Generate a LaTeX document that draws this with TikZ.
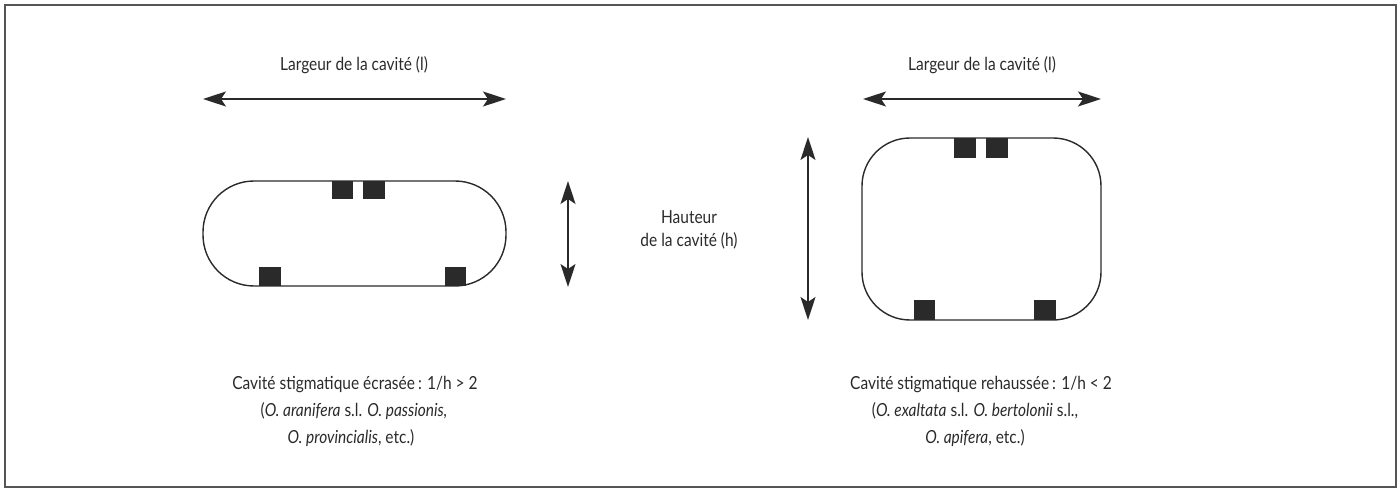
\documentclass[tikz,border=0pt]{standalone}
\usepackage{fontspec}
\setmainfont[FakeStretch=0.86]{Lato}
\usetikzlibrary{arrows.meta}
\definecolor{ink}{HTML}{2A2A2A}
\tikzset{
  dimarrow/.style={draw=ink, line width=1.4pt, {Stealth[length=23pt,width=15pt,inset=5pt]}-{Stealth[length=23pt,width=15pt,inset=5pt]}},
  cavity/.style={draw=ink, line width=1.4pt},
  pad/.style={fill=ink, draw=none},
  lbl/.style={text=ink, font=\fontsize{18}{22}\selectfont, inner sep=0pt, anchor=base}
}
\begin{document}
\begin{tikzpicture}[x=1pt,y=-1pt]
\useasboundingbox (0,0) rectangle (1400,489);
\draw[draw=ink!80, line width=1.5pt] (5,5) rectangle (1396,487);

% left cavity
\draw[cavity, rounded corners=51pt] (203,181) rectangle (506,286);
\fill[pad] (332,181) rectangle (353,199);
\fill[pad] (363,181) rectangle (385,199);
\fill[pad] (259,267) rectangle (281,286);
\fill[pad] (445,267) rectangle (466,286);

% right cavity
\draw[cavity, rounded corners=48pt] (862,138) rectangle (1101,320);
\fill[pad] (954,138) rectangle (976,158);
\fill[pad] (986,138) rectangle (1008,158);
\fill[pad] (914,300) rectangle (935,320);
\fill[pad] (1034,300) rectangle (1056,320);

% arrows
\coordinate (lwA) at (203,99);
\coordinate (lwB) at (506,99);
\draw[dimarrow] (lwA) -- (lwB);
\coordinate (rwA) at (863,99);
\coordinate (rwB) at (1101,99);
\draw[dimarrow] (rwA) -- (rwB);
\coordinate (lhA) at (568,181);
\coordinate (lhB) at (568,287);
\draw[dimarrow] (lhA) -- (lhB);
\coordinate (rhA) at (808,137);
\coordinate (rhB) at (808,320);
\draw[dimarrow] (rhA) -- (rhB);

% labels
\node[lbl] (lw) at (354,71) {Largeur de la cavité (l)};
\node[lbl] (rw) at (982,71) {Largeur de la cavité (l)};
\node[lbl] (hh) at (689,223) {Hauteur};
\node[lbl] (hc) at (689,247) {de la cavité (h)};

\node[lbl] (lc1) at (355,389) {Cavité stigmatique écrasée\,: 1/h > 2};
\node[lbl] (lc2) at (354,416) {(\textit{O. aranifera} s.l. \textit{O. passionis,}};
\node[lbl] (lc3) at (351,443) {\textit{O. provincialis}, etc.)};
\node[lbl] (rc1) at (981,389) {Cavité stigmatique rehaussée\,: 1/h < 2};
\node[lbl] (rc2) at (975,416) {(\textit{O. exaltata} s.l. \textit{O. bertolonii} s.l.,};
\node[lbl] (rc3) at (975,443) {\textit{O. apifera}, etc.)};
\end{tikzpicture}
\end{document}
